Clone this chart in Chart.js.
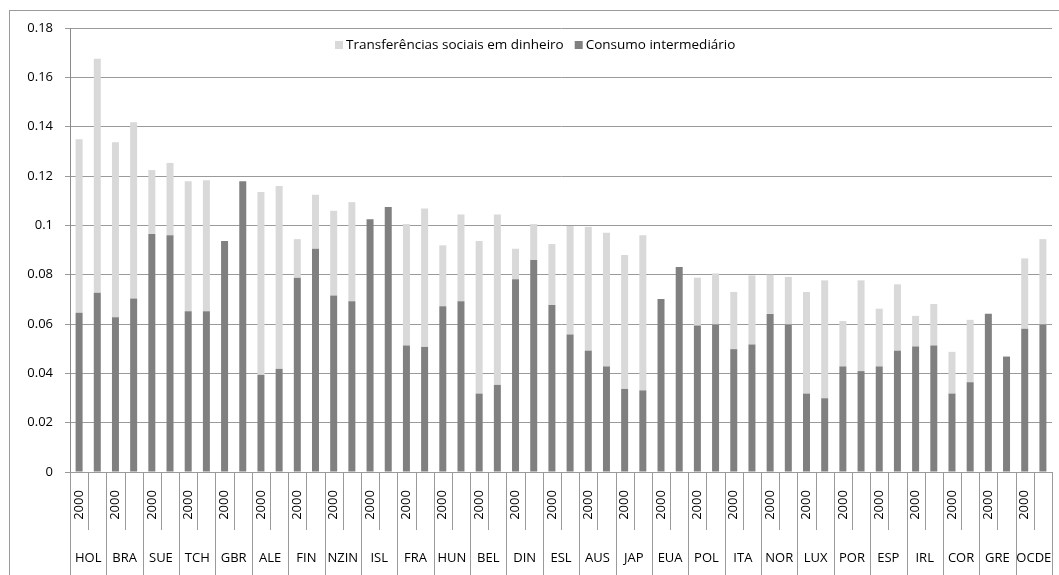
<!DOCTYPE html>
<html><head><meta charset="utf-8">
<script src="https://cdn.jsdelivr.net/npm/chart.js@4.4.1/dist/chart.umd.min.js"></script>
<style>html,body{margin:0;padding:0;background:#fff}#wrap{width:1059px;height:575px;position:relative}</style>
</head><body><div id="wrap"><canvas id="c"></canvas></div>
<script>
const countries = ['HOL','BRA','SUE','TCH','GBR','ALE','FIN','NZIN','ISL','FRA','HUN','BEL','DIN','ESL','AUS','JAP','EUA','POL','ITA','NOR','LUX','POR','ESP','IRL','COR','GRE','OCDE'];
const years = ['2000',''];
const consumo = [
 0.0646,0.0727, 0.0627,0.0703, 0.0965,0.0960, 0.0652,0.0652, 0.0936,0.1179,
 0.0394,0.0418, 0.0788,0.0905, 0.0716,0.0692, 0.1025,0.1074, 0.0513,0.0507,
 0.0672,0.0692, 0.0318,0.0353, 0.0781,0.0859, 0.0677,0.0557, 0.0492,0.0428,
 0.0337,0.0331, 0.0701,0.0831, 0.0594,0.0598, 0.0498,0.0517, 0.0641,0.0598,
 0.0318,0.0299, 0.0428,0.0409, 0.0428,0.0492, 0.0509,0.0513, 0.0318,0.0364,
 0.0642,0.0468, 0.0581,0.0598];
const transferencias = [
 0.0703,0.0948, 0.0710,0.0715, 0.0259,0.0293, 0.0527,0.0531, 0,0,
 0.0741,0.0741, 0.0156,0.0219, 0.0343,0.0402, 0,0, 0.0492,0.0561,
 0.0247,0.0352, 0.0618,0.0691, 0.0124,0.0146, 0.0247,0.0440, 0.0502,0.0542,
 0.0543,0.0629, 0,0, 0.0194,0.0207, 0.0232,0.0280, 0.0159,0.0193,
 0.0412,0.0478, 0.0184,0.0368, 0.0234,0.0269, 0.0124,0.0168, 0.0169,0.0253,
 0,0, 0.0285,0.0346];
const yTicks = [0,0.02,0.04,0.06,0.08,0.1,0.12,0.14,0.16,0.18];
const seriesNames = ['Consumo intermediário','Transferências sociais em dinheiro'];
const colors = ['#808080','#d9d9d9'];

const labels = [];
countries.forEach(c => years.forEach(y => labels.push([y, c])));

const FONT = "'Open Sans', sans-serif";

const frame = {
  id: 'frame',
  beforeDraw(chart) {
    const ctx = chart.ctx;
    ctx.save();
    ctx.fillStyle = '#fff';
    ctx.fillRect(0,0,chart.width,chart.height);
    ctx.strokeStyle = '#9a9a9a';
    ctx.lineWidth = 1;
    ctx.strokeRect(9.5, 10.5, 1100, 600);
    ctx.restore();
  },
  afterDraw(chart) {
    const ctx = chart.ctx, x = chart.scales.x, area = chart.chartArea;
    const n = labels.length;
    const step = x.getPixelForValue(1) - x.getPixelForValue(0);
    ctx.save();
    ctx.strokeStyle = '#9a9a9a';
    ctx.lineWidth = 1;
    for (let i = 0; i <= n; i++) {
      const bx = Math.round(x.getPixelForValue(i) - step/2) + 0.5;
      const long = (i % years.length) === 0;
      ctx.beginPath();
      ctx.moveTo(bx, area.bottom);
      ctx.lineTo(bx, long ? chart.height : area.bottom + 58);
      ctx.stroke();
    }
    ctx.fillStyle = '#000';
    ctx.font = "13px " + FONT;
    for (let i = 0; i < n; i++) {
      const cx = x.getPixelForValue(i);
      const yl = labels[i][0];
      if (yl) {
        ctx.save();
        ctx.translate(cx, area.bottom + 33);
        ctx.rotate(-Math.PI/2);
        ctx.textAlign = 'center';
        ctx.textBaseline = 'middle';
        ctx.fillText(yl, 0, 0);
        ctx.restore();
      }
    }
    ctx.textAlign = 'center';
    ctx.textBaseline = 'middle';
    countries.forEach((c, g) => {
      const i0 = g * years.length;
      const gx = (x.getPixelForValue(i0) + x.getPixelForValue(i0 + years.length - 1)) / 2;
      ctx.fillText(c, gx, area.bottom + 86);
    });
    // legend (order: Transferências, Consumo)
    ctx.textAlign = 'left';
    ctx.textBaseline = 'middle';
    ctx.font = "13.5px " + FONT;
    let lx = 335;
    const ly = area.top + 17;
    [1, 0].forEach(k => {
      ctx.fillStyle = colors[k];
      ctx.fillRect(lx, ly - 4, 8, 8);
      ctx.fillStyle = '#000';
      ctx.fillText(seriesNames[k], lx + 11, ly);
      lx += 11 + ctx.measureText(seriesNames[k]).width + 11;
    });
    ctx.restore();
  }
};

new Chart(document.getElementById('c'), {
  type: 'bar',
  data: {
    labels: labels,
    datasets: [
      { label: seriesNames[0], data: consumo, backgroundColor: colors[0], stack: 's' },
      { label: seriesNames[1], data: transferencias, backgroundColor: colors[1], stack: 's' }
    ]
  },
  options: {
    responsive: true,
    maintainAspectRatio: false,
    animation: false,
    layout: { padding: { left: 10, top: 28, right: 7, bottom: 0 } },
    datasets: { bar: { categoryPercentage: 1, barPercentage: 0.385 } },
    plugins: {
      legend: { display: false },
      tooltip: { enabled: false }
    },
    scales: {
      x: {
        stacked: true,
        grid: { display: false },
        border: { display: false },
        ticks: { display: false },
        afterFit: s => { s.height = 103; }
      },
      y: {
        stacked: true,
        min: 0, max: 0.18,
        afterBuildTicks: s => { s.ticks = yTicks.map(v => ({ value: v })); },
        afterFit: s => { s.width = 60; },
        ticks: {
          color: '#000', padding: 12,
          font: { family: FONT, size: 13 },
          callback: v => String(+Number(v).toFixed(2))
        },
        grid: { color: '#9a9a9a', lineWidth: 1, tickLength: 5 },
        border: { display: true, color: '#8a8a8a' }
      }
    }
  },
  plugins: [frame]
});
</script>
</body></html>
